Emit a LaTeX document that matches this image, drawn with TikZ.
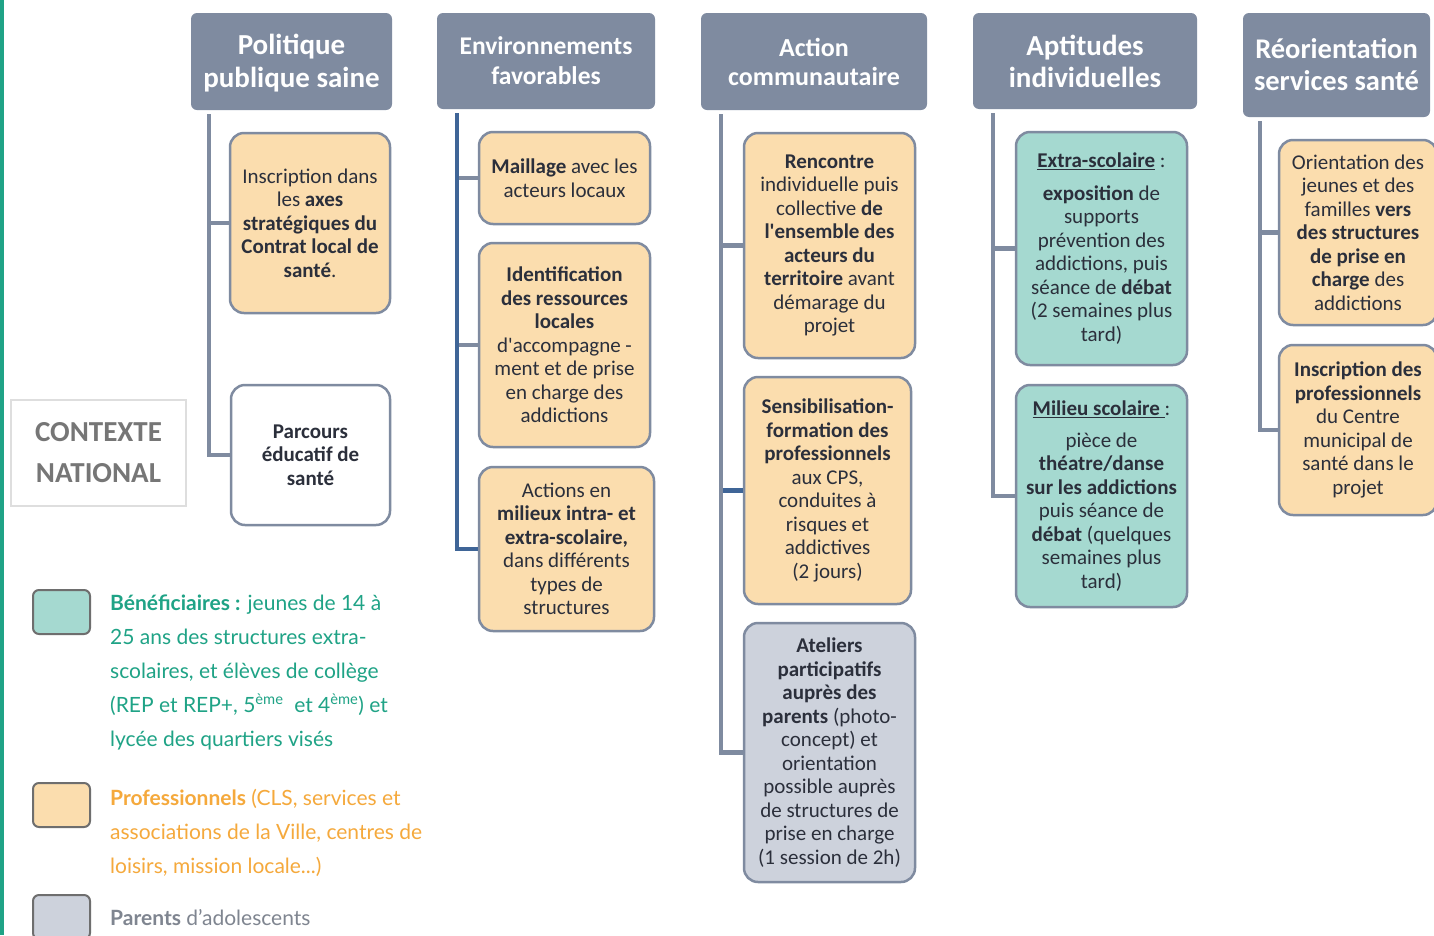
\documentclass[tikz,border=0pt]{standalone}
\usepackage{fontspec}
\setmainfont{Carlito}
\newfontfamily\legfont{Lato}
\usetikzlibrary{calc}
\definecolor{hdr}{HTML}{7F8BA0}
\definecolor{peach}{HTML}{FBDDAE}
\definecolor{mint}{HTML}{A5D9D0}
\definecolor{lgray}{HTML}{CDD2DC}
\definecolor{trunkblue}{HTML}{3F6597}
\definecolor{txt}{HTML}{2B2F3B}
\definecolor{tealc}{HTML}{1FA386}
\definecolor{orng}{HTML}{F5A93C}
\definecolor{pgray}{HTML}{7F8590}
\definecolor{ctx}{HTML}{767676}
\definecolor{swb}{HTML}{6E6E6E}
\newcommand{\sq}{\textquotesingle}
\begin{document}
\begin{tikzpicture}[x=1pt,y=-1pt,
  hdrbox/.style={fill=hdr, rounded corners=6pt, text=white, align=center, inner sep=0pt},
  cbox/.style={draw=hdr, line width=2.5pt, rounded corners=14pt, text=txt, align=center, inner sep=0pt,
    font=\fontsize{21}{23.5}\selectfont},
  conn/.style={draw=hdr, line width=4.5pt},
  connb/.style={draw=trunkblue, line width=4.5pt},
  swatch/.style={draw=swb, line width=2pt, rounded corners=6pt, minimum width=57pt, minimum height=44pt, inner sep=0pt},
  legtxt/.style={anchor=west, align=left, inner sep=0pt, font=\legfont\fontsize{21}{34}\selectfont}
]
\useasboundingbox (0,0) rectangle (1434,935);
\fill[white] (0,0) rectangle (1434,935);
\fill[tealc] (0,0) rectangle (4,935);

% headers
\node[hdrbox, minimum width=201pt, minimum height=97pt, font=\bfseries\fontsize{29}{33}\selectfont] (h1) at (291.5,61.5) {\strut\smash{Politique}\\publique saine};
\node[hdrbox, minimum width=218pt, minimum height=96pt, font=\bfseries\fontsize{25.5}{30}\selectfont] (h2) at (546,61) {Environnements\\favorables};
\node[hdrbox, minimum width=226pt, minimum height=97pt, font=\bfseries\fontsize{26}{29}\selectfont] (h3) at (814,61.5) {Action\\communautaire};
\node[hdrbox, minimum width=224pt, minimum height=96pt, font=\bfseries\fontsize{29}{32}\selectfont] (h4) at (1085,61) {Aptitudes\\individuelles};
\node[hdrbox, minimum width=187pt, minimum height=104pt, font=\bfseries\fontsize{28.5}{32}\selectfont] (h5) at (1336.5,65) {Réorientation\\services santé};

% column 1
\node[cbox, fill=peach, minimum width=160pt, minimum height=180pt] (c11) at (310,223)
  {Inscription dans\\les \textbf{axes}\\\textbf{stratégiques du}\\\textbf{Contrat local de}\\\textbf{santé}.};
\node[cbox, fill=white, minimum width=159pt, minimum height=140pt, font=\bfseries\fontsize{21}{23.5}\selectfont] (c12) at (310.5,455)
  {Parcours\\éducatif de\\santé};

% column 2
\node[cbox, fill=peach, minimum width=171pt, minimum height=92pt] (c21) at (564.5,178)
  {\textbf{Maillage} avec les\\acteurs locaux};
\node[cbox, fill=peach, minimum width=171pt, minimum height=204pt] (c22) at (564.5,345)
  {\textbf{Identification}\\\textbf{des ressources}\\\textbf{locales}\\d\sq accompagne -\\ment et de prise\\en charge des\\addictions};
\node[cbox, fill=peach, minimum width=175pt, minimum height=164pt] (c23) at (566.5,549)
  {Actions en\\\textbf{milieux intra- et}\\\textbf{extra-scolaire,}\\dans différents\\types de\\structures};

% column 3
\node[cbox, fill=peach, minimum width=171pt, minimum height=225pt] (c31) at (829.5,245.5)
  {\textbf{Rencontre}\\individuelle puis\\collective \textbf{de}\\\textbf{l\sq ensemble des}\\\textbf{acteurs du}\\\textbf{territoire} avant\\démarage du\\projet};
\node[cbox, fill=peach, minimum width=167pt, minimum height=227pt] (c32) at (827.5,490.5)
  {\textbf{Sensibilisation-}\\\textbf{formation des}\\\textbf{professionnels}\\aux CPS,\\conduites à\\risques et\\addictives\\(2 jours)};
\node[cbox, fill=lgray, minimum width=171pt, minimum height=259pt] (c33) at (829.5,752.5)
  {\textbf{Ateliers}\\\textbf{participatifs}\\\textbf{auprès des}\\\textbf{parents} (photo-\\concept) et\\orientation\\possible auprès\\de structures de\\prise en charge\\(1 session de 2h)};

% column 4
\node[cbox, fill=mint, minimum width=171pt, minimum height=233pt] (c41) at (1101.5,248.5)
  {\underline{\textbf{Extra-scolaire}} :\\[9.5pt]\textbf{exposition} de\\supports\\prévention des\\addictions, puis\\séance de \textbf{débat}\\(2 semaines plus\\tard)};
\node[cbox, fill=mint, minimum width=171pt, minimum height=222pt] (c42) at (1101.5,496)
  {\underline{\textbf{Milieu scolaire }}:\\[8.5pt]pièce de\\\textbf{théatre/danse}\\\textbf{sur les addictions}\\puis séance de\\\textbf{débat} (quelques\\semaines plus\\tard)};

% column 5
\node[cbox, fill=peach, minimum width=158pt, minimum height=185pt] (c51) at (1358,232.5)
  {Orientation des\\jeunes et des\\familles \textbf{vers}\\\textbf{des structures}\\\textbf{de prise en}\\\textbf{charge} des\\addictions};
\node[cbox, fill=peach, minimum width=158pt, minimum height=170pt] (c52) at (1358,430)
  {\textbf{Inscription des}\\\textbf{professionnels}\\du Centre\\municipal de\\santé dans le\\projet};

% connectors
\draw[conn] (c11.west) -- ++(-21,0);
\draw[conn] ($(h1.south west)+(18,4)$) |- (c12.west);

\draw[conn] (c21.west) -- ++(-22,0);
\draw[conn] (c22.west) -- ++(-22,0);
\draw[connb] ($(h2.south west)+(20,4)$) |- (c23.west);

\draw[conn] (c31.west) -- ++(-23,0);
\draw[connb] (c32.west) -- ++(-23,0);
\draw[conn] ($(h3.south west)+(20,4)$) |- (c33.west);

\draw[conn] (c41.west) -- ++(-23,0);
\draw[conn] ($(h4.south west)+(20,4)$) |- (c42.west);

\draw[conn] (c51.west) -- ++(-19,0);
\draw[conn] ($(h5.south west)+(17,4)$) |- (c52.west);

% contexte
\node[draw=black!13, line width=2pt, minimum width=175pt, minimum height=106pt, inner sep=0pt, align=center,
  text=ctx, font=\bfseries\fontsize{29}{41}\selectfont] (ctxn) at (98.5,453) {\raisebox{2pt}{CONTEXTE}\\\raisebox{2pt}{NATIONAL}};

% legend
\node[swatch, fill=mint] (s1) at (61.5,612) {};
\node[swatch, fill=peach] (s2) at (61.5,805) {};
\node[swatch, fill=lgray] (s3) at (61.5,917) {};
\node[legtxt, text=tealc] (l1) at (110,672)
  {\textbf{Bénéficiaires :} jeunes de 14 à\\25 ans des structures extra-\\scolaires, et élèves de collège\\(REP et REP+, 5\textsuperscript{ème}\ \ et 4\textsuperscript{ème}) et\\lycée des quartiers visés};
\node[legtxt, text=orng] (l2) at (110,833)
  {\textbf{Professionnels} (CLS, services et\\associations de la Ville, centres de\\loisirs, mission locale...)};
\node[legtxt, text=pgray] (l3) at (110,918)
  {\textbf{Parents} d’adolescents};
\end{tikzpicture}
\end{document}
